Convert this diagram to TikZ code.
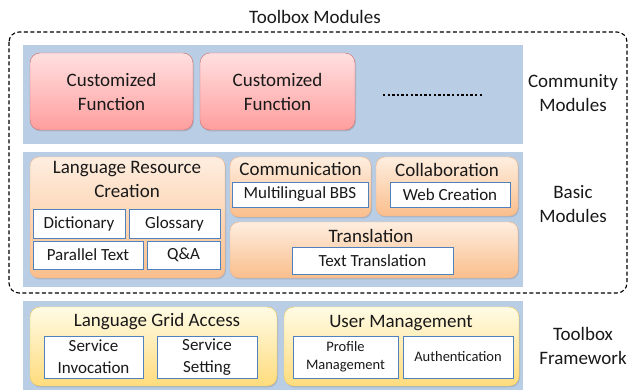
\documentclass[tikz,border=0pt]{standalone}
\usepackage{fontspec}
\setmainfont{Carlito}
\usepackage{tikz}
\usetikzlibrary{shadows}

\definecolor{bandblue}{RGB}{185,205,229}
\definecolor{cfline}{RGB}{210,110,108}
\definecolor{cftop}{RGB}{255,224,224}
\definecolor{cfbot}{RGB}{255,158,158}
\definecolor{bsline}{RGB}{248,180,128}
\definecolor{bstop}{RGB}{254,238,224}
\definecolor{bsbot}{RGB}{250,190,140}
\definecolor{fwline}{RGB}{248,205,90}
\definecolor{fwtop}{RGB}{255,251,228}
\definecolor{fwbot}{RGB}{255,220,125}
\definecolor{itemline}{RGB}{79,129,189}
\definecolor{txt}{RGB}{25,25,25}

\begin{document}
\begin{tikzpicture}[x=1pt,y=-1pt,
    every node/.style={text=txt,inner sep=0pt},
    band/.style={fill=bandblue,minimum width=500pt},
    cfunc/.style={rounded corners=10pt,draw=cfline,top color=cftop,bottom color=cfbot,
        drop shadow={shadow xshift=1pt,shadow yshift=-1.5pt,opacity=.3},
        align=center,font=\fontsize{19}{24}\selectfont},
    basicbox/.style={rounded corners=9pt,draw=bsline,top color=bstop,bottom color=bsbot,
        drop shadow={shadow xshift=1pt,shadow yshift=-1.5pt,opacity=.3}},
    framebox/.style={rounded corners=10pt,draw=fwline,top color=fwtop,bottom color=fwbot,
        drop shadow={shadow xshift=1pt,shadow yshift=-1.5pt,opacity=.3}},
    item/.style={draw=itemline,fill=white,line width=.7pt,align=center,
        font=\fontsize{17}{22}\selectfont},
    smallitem/.style={item,font=\fontsize{14.5}{18}\selectfont},
    title/.style={align=center,font=\fontsize{19}{24.5}\selectfont},
    side/.style={align=center,font=\fontsize{19}{24}\selectfont}]
  \useasboundingbox (0,0) rectangle (630,390);

  % bands
  \node (bandc) [band,minimum height=99pt] at (273,94.5) {};
  \node (bandb) [band,minimum height=135pt] at (273,219.5) {};
  \node (bandf) [band,minimum height=89pt] at (273,345.5) {};

  % toolbox modules frame
  \node (tbm) [title] at (315,17) {Toolbox Modules};
  \draw[dashed,dash pattern=on 4pt off 2.5pt,line width=1.1pt,rounded corners=10pt]
    (9,32) rectangle (627,293);

  % community modules
  \node (cf1) [cfunc,minimum width=163pt,minimum height=77pt] at (111.5,91.5) {Customized\\Function};
  \node (cf2) [cfunc,minimum width=155pt,minimum height=77pt] at (277.5,91.5) {Customized\\Function};
  \coordinate (dotsl) at (383,95);
  \coordinate (dotsr) at (483,95);
  \draw[line width=2.6pt,dash pattern=on 2.4pt off 2.2pt] (dotsl) -- (dotsr);
  \node (comml) [side] at (573,93.5) {Community\\Modules};

  % basic modules
  \node (lrc) [basicbox,minimum width=195pt,minimum height=121pt] at (127.5,217.5) {};
  \node (lrct) [title] at (127,179.5) {Language Resource\\Creation};
  \node (dict) [item,minimum width=92pt,minimum height=29pt] at (79,223.5) {Dictionary};
  \node (gloss) [item,minimum width=91pt,minimum height=29pt] at (174.5,223.5) {Glossary};
  \node (ptext) [item,minimum width=110pt,minimum height=28pt] at (88,255) {Parallel Text};
  \node (qa) [item,minimum width=73pt,minimum height=28pt] at (183.5,255) {Q\&A};

  \node (comm) [basicbox,minimum width=141pt,minimum height=60pt] at (300.5,187) {};
  \node (commt) [title] at (300.5,169) {Communication};
  \node (mbbs) [item,minimum width=136pt,minimum height=25pt] at (300,194.5) {Multilingual BBS};

  \node (collab) [basicbox,minimum width=142pt,minimum height=59pt] at (447,186.5) {};
  \node (collabt) [title] at (447,170) {Collaboration};
  \node (webc) [item,minimum width=120pt,minimum height=25pt] at (450,194.5) {Web Creation};

  \node (trans) [basicbox,minimum width=288pt,minimum height=56pt] at (374,250) {};
  \node (transt) [title] at (371,236) {Translation};
  \node (ttrans) [item,minimum width=161pt,minimum height=27pt] at (372.5,260.5) {Text Translation};

  \node (basicl) [side] at (573,204) {Basic\\Modules};

  % toolbox framework
  \node (lga) [framebox,minimum width=247pt,minimum height=79pt] at (153.5,346.5) {};
  \node (lgat) [title] at (157,322) {Language Grid Access};
  \node (sinv) [item,minimum width=99pt,minimum height=42pt] at (93.5,357) {Service\\Invocation};
  \node (sset) [item,minimum width=100pt,minimum height=42pt] at (207,357) {Service\\Setting};

  \node (um) [framebox,minimum width=235pt,minimum height=79pt] at (401.5,346.5) {};
  \node (umt) [title] at (401,323) {User Management};
  \node (prof) [smallitem,minimum width=105pt,minimum height=42pt] at (345.5,357) {Profile\\Management};
  \node (auth) [smallitem,minimum width=110pt,minimum height=42pt] at (458,357) {Authentication};

  \node (framel) [side] at (583,346) {Toolbox\\Framework};
\end{tikzpicture}
\end{document}
